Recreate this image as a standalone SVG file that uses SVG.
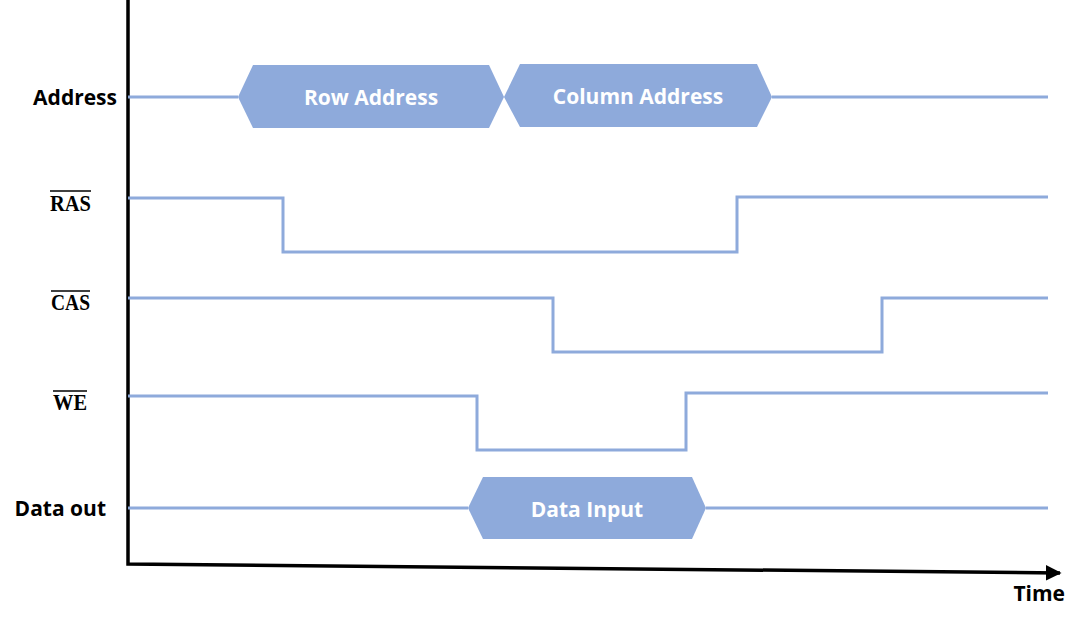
<svg xmlns="http://www.w3.org/2000/svg" width="1080" height="621" viewBox="0 0 1080 621">
<style>
.sig{fill:none;stroke:#8eaadb;stroke-width:3;stroke-linejoin:miter}
.hex{fill:#8eaadb;stroke:none}
.htxt{font-family:"Open Sans","Noto Sans",sans-serif;font-weight:700;font-size:21px;fill:#ffffff;text-anchor:middle;dominant-baseline:central}
.lbl{font-family:"Open Sans","Noto Sans",sans-serif;font-weight:700;font-size:21px;fill:#000000;text-anchor:end}
.ovl{font-family:"Liberation Serif","DejaVu Serif",serif;font-weight:700;font-size:24px;fill:#000000}
.ax{fill:none;stroke:#000000;stroke-width:3.5}
</style>
<defs>
<marker id="arr" viewBox="0 0 10 10" refX="9" refY="5" markerWidth="4.5" markerHeight="4.5" orient="auto" markerUnits="strokeWidth">
<path d="M0,0 L10,5 L0,10 z" fill="#000000"/>
</marker>
</defs>
<rect width="1080" height="621" fill="#ffffff"/>
<g id="axes">
<path class="ax" d="M128,0 L128,564 L1060,573" marker-end="url(#arr)"/>
<text class="lbl" x="1065" y="601" font-size="22">Time</text>
</g>
<g id="labels">
<text class="lbl" x="117" y="105">Address</text>
<text class="ovl" x="50" y="211" textLength="41" lengthAdjust="spacingAndGlyphs">RAS</text>
<line x1="50" y1="191" x2="91" y2="191" stroke="#000" stroke-width="1.5"/>
<text class="ovl" x="51" y="310" textLength="39" lengthAdjust="spacingAndGlyphs">CAS</text>
<line x1="51" y1="291" x2="90" y2="291" stroke="#000" stroke-width="1.5"/>
<text class="ovl" x="53" y="410" textLength="34" lengthAdjust="spacingAndGlyphs">WE</text>
<line x1="53" y1="391" x2="87" y2="391" stroke="#000" stroke-width="1.5"/>
<text class="lbl" x="106" y="516">Data out</text>
</g>
<g id="connectors">
<path class="sig" d="M128,97 L238,97"/>
<path class="sig" d="M772,97 L1048,97"/>
<path class="sig" d="M128,198 L283,198 L283,252 L737,252 L737,197 L1048,197"/>
<path class="sig" d="M128,298 L553,298 L553,352 L882,352 L882,298 L1048,298"/>
<path class="sig" d="M128,396 L477,396 L477,450 L686,450 L686,393 L1048,393"/>
<path class="sig" d="M128,508 L468,508"/>
<path class="sig" d="M706,508 L1048,508"/>
</g>
<g id="row-address">
<polygon class="hex" points="238,97 253,65 489,65 504,97 489,128 253,128"/>
<text class="htxt" x="371" y="97">Row Address</text>
</g>
<g id="column-address">
<polygon class="hex" points="504,97 520,64 757,64 772,97 757,127 520,127"/>
<text class="htxt" x="638" y="96">Column Address</text>
</g>
<g id="data-input">
<polygon class="hex" points="468,508 483,477 692,477 706,508 692,539 483,539"/>
<text class="htxt" x="587" y="509">Data Input</text>
</g>
</svg>
